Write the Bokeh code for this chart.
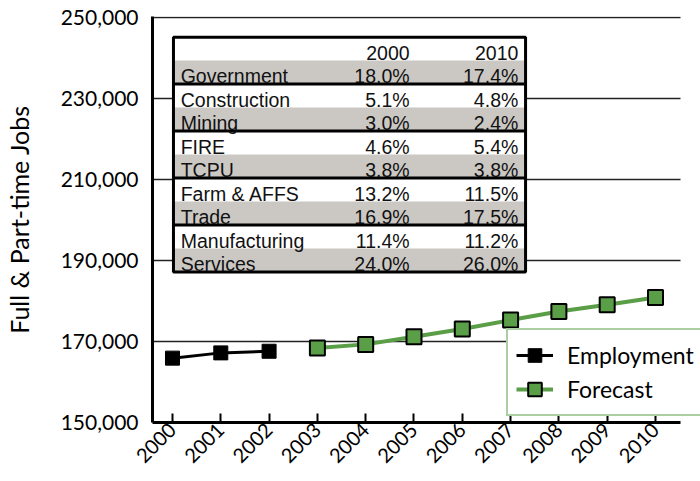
import math
from bokeh.plotting import figure
from bokeh.models import FixedTicker, NumeralTickFormatter, Legend, LegendItem
from bokeh.core.properties import value
from bokeh.embed import file_html
from bokeh.resources import INLINE

# ---- data ----
years_emp = [2000, 2001, 2002]
employment = [165900, 167200, 167600]
years_fc = [2003, 2004, 2005, 2006, 2007, 2008, 2009, 2010]
forecast = [168400, 169300, 171200, 173100, 175300, 177400, 179100, 180900]

x_ticks = [2000, 2001, 2002, 2003, 2004, 2005, 2006, 2007, 2008, 2009, 2010]
y_ticks = [150000, 170000, 190000, 210000, 230000, 250000]

table_years = ["2000", "2010"]
sectors = ["Government", "Construction", "Mining", "FIRE", "TCPU",
           "Farm & AFFS", "Trade", "Manufacturing", "Services"]
share_2000 = ["18.0%", "5.1%", "3.0%", "4.6%", "3.8%", "13.2%", "16.9%", "11.4%", "24.0%"]
share_2010 = ["17.4%", "4.8%", "2.4%", "5.4%", "3.8%", "11.5%", "17.5%", "11.2%", "26.0%"]

# ---- style ----
GREEN = "#5a9e48"
GREY = "#cbc8c4"
AXIS_FONT = "Lato"
TABLE_FONT = "Liberation Sans"

X_START, X_AXIS_END, X_END = 1999.586, 2010.52, 2010.932

p = figure(width=700, height=481, output_backend="svg", toolbar_location=None,
           x_range=(X_START, X_END), y_range=(150000, 250300),
           min_border_left=152, min_border_right=0, min_border_top=16,
           min_border_bottom=59)
p.outline_line_color = None
p.background_fill_color = "white"
p.border_fill_color = "white"

p.xgrid.visible = False
p.ygrid.ticker = FixedTicker(ticks=y_ticks)
p.ygrid.grid_line_color = "#222222"
p.ygrid.grid_line_width = 1.5
p.ygrid.cross_bounds = (X_START, X_AXIS_END)

p.yaxis.ticker = FixedTicker(ticks=y_ticks)
p.yaxis.formatter = NumeralTickFormatter(format="0,0")
p.yaxis.major_tick_in = 0
p.yaxis.major_tick_out = 0
p.yaxis.minor_tick_in = 0
p.yaxis.minor_tick_out = 0
p.yaxis.axis_line_width = 3
p.yaxis.axis_line_color = "black"
p.yaxis.major_label_text_font = AXIS_FONT
p.yaxis.major_label_text_font_size = "21px"
p.yaxis.major_label_text_color = "black"
p.yaxis.major_label_standoff = 14
p.yaxis.axis_label = "Full & Part-time Jobs"
p.yaxis.axis_label_text_font = AXIS_FONT
p.yaxis.axis_label_text_font_size = "25px"
p.yaxis.axis_label_text_font_style = "normal"
p.yaxis.axis_label_text_color = "black"
p.yaxis.axis_label_standoff = 24

p.xaxis.ticker = FixedTicker(ticks=x_ticks)
p.xaxis.bounds = (X_START, X_AXIS_END)
p.xaxis.major_label_orientation = math.pi / 4
p.xaxis.major_tick_in = 9
p.xaxis.major_tick_out = 0
p.xaxis.minor_tick_in = 0
p.xaxis.minor_tick_out = 0
p.xaxis.major_tick_line_width = 2
p.xaxis.major_tick_line_color = "black"
p.xaxis.axis_line_width = 3
p.xaxis.axis_line_color = "black"
p.xaxis.major_label_text_font = AXIS_FONT
p.xaxis.major_label_text_font_size = "20px"
p.xaxis.major_label_text_color = "black"
p.xaxis.major_label_standoff = 4

# ---- inset table (placed in data space) ----
T_LEFT, T_RIGHT = 2000.02, 2007.31
T_TOP, ROW_H = 245200, 5800
LABEL_X, COL1_X, COL2_X = 2000.17, 2004.91, 2007.16

row_labels = [""] + sectors
col1 = [table_years[0]] + share_2000
col2 = [table_years[1]] + share_2010
n_rows = len(row_labels)
tops = [T_TOP - i * ROW_H for i in range(n_rows)]
bottoms = [t - ROW_H for t in tops]
centers = [t - ROW_H / 2 for t in tops]
fills = ["white" if i % 2 == 0 else GREY for i in range(n_rows)]

p.quad(left=T_LEFT, right=T_RIGHT, top=tops, bottom=bottoms,
       fill_color=fills, line_color=None)
sep_y = [bottoms[i] for i in range(1, n_rows - 1, 2)]
p.segment(x0=[T_LEFT] * len(sep_y), x1=[T_RIGHT] * len(sep_y), y0=sep_y, y1=sep_y,
          line_color="black", line_width=3)
p.quad(left=[T_LEFT], right=[T_RIGHT], top=[T_TOP], bottom=[bottoms[-1]],
       fill_color=None, line_color="black", line_width=3)

text_kw = dict(text_font=value(TABLE_FONT), text_font_size="19.5px",
               text_color="#111111", text_baseline="middle", y_offset=4)
p.text(x=[LABEL_X] * n_rows, y=centers, text=row_labels, text_align="left", **text_kw)
p.text(x=[COL1_X] * n_rows, y=centers, text=col1, text_align="right", **text_kw)
p.text(x=[COL2_X] * n_rows, y=centers, text=col2, text_align="right", **text_kw)

# ---- series ----
r1 = p.line(years_emp, employment, line_color="black", line_width=3)
r2 = p.scatter(years_emp, employment, marker="square", size=14,
               fill_color="black", line_color="black")
r3 = p.line(years_fc, forecast, line_color=GREEN, line_width=4)
r4 = p.scatter(years_fc, forecast, marker="square", size=15,
               fill_color=GREEN, line_color="black", line_width=2)

legend = Legend(items=[LegendItem(label="Employment", renderers=[r1, r2]),
                       LegendItem(label="Forecast", renderers=[r3, r4])],
                location=(354, 6), orientation="vertical",
                padding=8, spacing=0, glyph_width=37, glyph_height=34,
                label_height=34, label_standoff=14,
                label_text_font=AXIS_FONT, label_text_font_size="23px",
                label_text_color="black",
                border_line_color=GREEN, border_line_width=2,
                background_fill_color="white", background_fill_alpha=1.0)
p.add_layout(legend)

open("out.html", "w").write(file_html(p, INLINE))
